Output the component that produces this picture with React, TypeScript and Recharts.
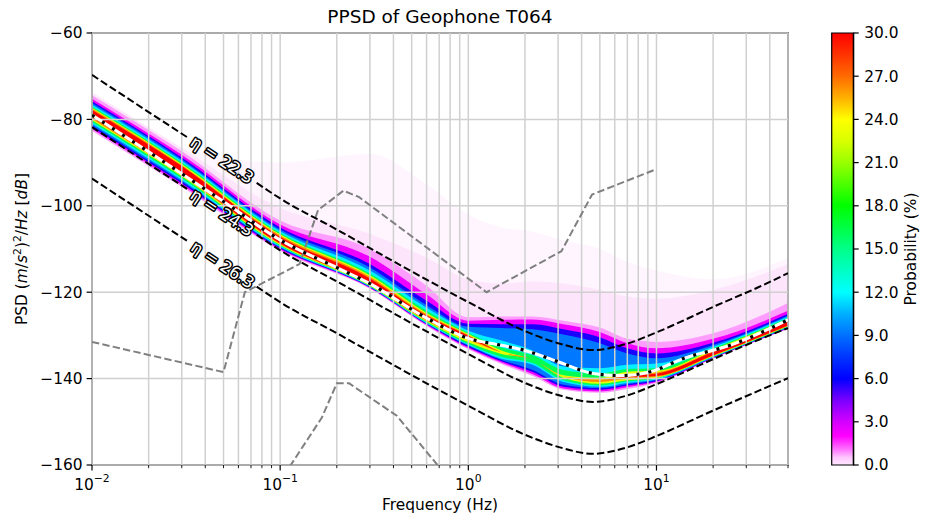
import React from 'react';
import {
  ComposedChart, Area, Line, Scatter, XAxis, YAxis, CartesianGrid, ReferenceArea,
  BarChart, Bar,
} from 'recharts';

const FONT = '"DejaVu Sans", Verdana, sans-serif';

// ---------- axes ----------
const X_TICKS = [0.01, 0.02, 0.03, 0.04, 0.05, 0.06, 0.07, 0.08, 0.09, 0.1, 0.2, 0.3, 0.4, 0.5, 0.6, 0.7, 0.8, 0.9, 1, 2, 3, 4, 5, 6, 7, 8, 9, 10, 20, 30, 40, 50];
const X_MAJOR = [0.01, 0.1, 1, 10];
const X_EXP = ['\u22122', '\u22121', '0', '1'];
const Y_TICKS = [-160, -140, -120, -100, -80, -60];
const CB_TICKS = [0, 3, 6, 9, 12, 15, 18, 21, 24, 27, 30];

// ---------- probability density (range bands, [low, high] in dB) ----------
const FREQ = [0.01, 0.03, 0.1, 0.3, 0.6, 1, 1.5, 2.2, 3.2, 5, 7, 10, 20, 50];
const FAINT_SPARSE = [[-82.6, -73.8], [-95.6, -86.5], [-110.4, -90], [-119.2, -88], [-127.8, -95], [-133.2, -102], [-136.6, -105], [-139.4, -106], [-142.6, -108], [-143.3, -110], [-142.4, -113], [-141, -115], [-135.4, -117], [-128.5, -112]];
const FAINT = [[-82.6, -73.8], [-95.6, -86.6], [-110.4, -100.5], [-119.2, -106.5], [-127.8, -112], [-133.2, -117], [-136.6, -118], [-139.4, -117.5], [-142.6, -118], [-143.3, -119.5], [-142.4, -121], [-141, -121.5], [-135.4, -119.5], [-128.5, -113.5]];
const PINK = [[-82.6, -74.4], [-95.6, -87.4], [-110.4, -103.4], [-119.2, -110.0], [-127.8, -118.5], [-133.2, -125.8], [-136.6, -125.6], [-139.4, -125.6], [-142.6, -126.6], [-143.3, -128.2], [-142.4, -130.8], [-141.0, -131.5], [-135.4, -129.5], [-128.5, -122.5]];
const MAGENTA = [[-82.2, -75.2], [-95.2, -88.2], [-110.1, -104.3], [-119.0, -111.8], [-127.6, -120.5], [-133.0, -126.6], [-136.3, -126.4], [-139.0, -126.3], [-142.3, -127.4], [-143.0, -129.2], [-142.0, -131.8], [-140.8, -133.0], [-135.3, -130.8], [-128.4, -124.3]];
const BLUE = [[-81.8, -75.8], [-94.8, -88.8], [-109.9, -105.0], [-118.9, -113.5], [-127.4, -122.0], [-132.7, -127.3], [-136.0, -127.4], [-138.5, -127.4], [-141.9, -128.6], [-142.6, -130.4], [-141.6, -133.0], [-140.6, -134.2], [-135.2, -131.7], [-128.3, -125.0]];
const AZURE = [[-81.4, -76.2], [-94.4, -89.2], [-109.7, -105.5], [-118.8, -114.3], [-127.3, -123.0], [-132.4, -128.0], [-135.7, -128.3], [-138.0, -128.6], [-141.4, -129.8], [-142.2, -131.8], [-141.3, -134.2], [-140.4, -135.3], [-135.1, -132.2], [-128.2, -125.4]];
const CYAN = [[-81.0, -76.6], [-94.0, -89.6], [-109.5, -105.9], [-118.7, -115.0], [-127.2, -123.6], [-132.2, -128.9], [-135.4, -131.2], [-136.8, -133.5], [-140.8, -137.2], [-141.9, -137.6], [-141.0, -136.8], [-140.2, -136.5], [-135.0, -132.6], [-128.1, -125.7]];
const GREEN = [[-80.6, -77.0], [-93.6, -90.0], [-109.3, -106.3], [-118.6, -115.7], [-127.0, -124.3], [-132.0, -129.4], [-135.0, -132.8], [-136.4, -134.6], [-140.4, -138.0], [-141.6, -138.8], [-140.7, -137.8], [-140.0, -137.6], [-134.9, -133.0], [-128.0, -126.0]];
const YELLOW = [[-80.2, -77.3], [-93.2, -90.3], [-109.1, -106.6], [-118.5, -116.1], [-126.8, -124.8], [-131.6, -129.7], [-134.3, -133.5], [-135.6, -135.6], [-139.8, -139.2], [-141.2, -139.8], [-140.4, -138.4], [-139.8, -138.2], [-134.8, -133.3], [-127.9, -126.3]];
const ORANGE = [[-79.9, -77.5], [-92.9, -90.6], [-108.9, -106.9], [-118.3, -116.4], [-126.6, -125.1], [-131.0, -129.9], [-133.9, -133.9], [-135.6, -135.6], [-139.5, -139.5], [-140.8, -140.2], [-140.0, -139.0], [-139.6, -138.6], [-134.7, -133.6], [-127.8, -126.5]];
const RED = [[-79.5, -77.8], [-92.5, -90.8], [-108.7, -107.2], [-118.1, -116.8], [-126.4, -125.4], [-130.6, -130.1], [-133.9, -133.9], [-135.6, -135.6], [-139.5, -139.5], [-140.5, -140.5], [-139.7, -139.4], [-139.4, -138.9], [-134.6, -133.8], [-127.7, -126.7]];

const BANDS = [
  { name: 'sparse', values: FAINT_SPARSE, color: '#fef5fe' },
  { name: 'faint', values: FAINT, color: '#fde5fb' },
  { name: 'pink', values: PINK, color: '#ff9cff' },
  { name: 'magenta', values: MAGENTA, color: '#f000ff' },
  { name: 'blue', values: BLUE, color: '#1a00ff' },
  { name: 'azure', values: AZURE, color: '#0078ff' },
  { name: 'cyan', values: CYAN, color: '#00f0ff' },
  { name: 'green', values: GREEN, color: '#00ff55' },
  { name: 'yellow', values: YELLOW, color: '#e8ff00' },
  { name: 'orange', values: ORANGE, color: '#ff8c00' },
  { name: 'red', values: RED, color: '#ff0000' },
];

// ---------- lines ----------
const ETA_F = [0.01, 0.02, 0.032, 0.05, 0.075, 0.1, 0.2, 0.5, 1, 2, 3, 4.6, 7, 10, 20, 35, 50];
const ETA_22 = [-69.7, -78.3, -84.1, null, -94.7, -98.3, -105.5, -115.2, -122.3, -129.0, -131.8, -133.4, -131.9, -129.3, -123.4, -118.8, -115.6];
const ETA_24 = [-81.8, -90.3, -96.1, null, -106.7, -110.3, -117.5, -127.2, -134.3, -141.0, -143.8, -145.4, -143.9, -141.3, -135.5, -131.0, -128.3];
const ETA_26 = [-93.7, -102.3, -108.1, null, -118.7, -122.3, -129.5, -139.2, -146.3, -153.0, -155.8, -157.4, -155.9, -153.3, -147.4, -142.8, -139.9];

const MODE_F = [0.01, 0.02, 0.05, 0.1, 0.2, 0.3, 0.6, 1, 1.5, 2, 3, 4.6, 6.4, 9.3, 14, 25, 50];
const MODE_V = [-79.0, -87.5, -99.0, -107.9, -114.3, -118.0, -126.0, -130.7, -132.3, -133.5, -136.1, -138.8, -139.3, -138.4, -135.3, -132.2, -126.4];

const NHNM_F = [0.01, 0.05, 0.0649, 0.1266, 0.159, 0.217, 0.263, 1.25, 3.125, 4.545, 10];
const NHNM_V = [-131.5, -138.5, -120.0, -113.5, -101.0, -96.5, -98.0, -120.0, -110.5, -97.4, -91.5];
const NLNM_F = [0.0641, 0.0833, 0.1, 0.1667, 0.2, 0.2326, 0.4167, 0.806, 1.25];
const NLNM_V = [-162.1, -166.2, -163.75, -149.0, -141.1, -141.1, -148.6, -163.7, -169.2];

const ETA_LABELS = [
  { f: 0.0491, v: -89.4, text: '\u03B7 = 22.3' },
  { f: 0.0491, v: -101.6, text: '\u03B7 = 24.3' },
  { f: 0.0495, v: -113.7, text: '\u03B7 = 26.3' },
];

const CB_DATA = [{ name: 'p', v: 30 }];
const CB_STOPS = [
  ['0%', '#ff0000'], ['5%', '#ff3300'], ['10%', '#ff6a00'], ['15%', '#ffb000'], ['20%', '#ffff00'],
  ['25%', '#d8ff00'], ['30%', '#99ff00'], ['35%', '#4cff00'], ['40%', '#00ff00'], ['45%', '#00ff44'],
  ['50%', '#00ff88'], ['55%', '#00ffc4'], ['60%', '#00ffff'], ['65%', '#00b0ff'], ['70%', '#0070ff'],
  ['75%', '#0035ff'], ['80%', '#0000ff'], ['85%', '#7a00ff'], ['90%', '#d400ff'], ['93.3%', '#ff00ff'],
  ['96.7%', '#ff80ff'], ['98.3%', '#ffc8ff'], ['100%', '#ffe8ff'],
];

const toRows = (xs: number[], ys: any[]) => xs.map((f, i) => ({ f, v: ys[i] }));
const bandRows = (vals: number[][]) => FREQ.map((f, i) => ({ f, r: vals[i] }));

const XTick = (props: any) => {
  const { x, y, payload } = props;
  const idx = X_MAJOR.findIndex((m) => Math.abs(m - payload.value) < 1e-9);
  const major = idx >= 0;
  return (
    <g>
      <line x1={x} x2={x} y1={y} y2={y + (major ? 5.6 : 3.2)} stroke="#000" strokeWidth={major ? 1.2 : 0.9} />
      {major && (
        <text x={x} y={y + 25} textAnchor="middle" fontSize={15.4} fontFamily={FONT} fill="#000">
          10<tspan dy={-8} fontSize={10.8}>{X_EXP[idx]}</tspan>
        </text>
      )}
    </g>
  );
};

const EtaLabel = (props: any) => {
  const { cx, cy, payload } = props;
  if (cx == null || cy == null) return null;
  return (
    <text
      x={cx} y={cy} transform={`rotate(33.5 ${cx} ${cy})`} textAnchor="middle" dominantBaseline="central"
      fontSize={16.5} fontFamily={FONT} fill="#fff" stroke="#000" strokeWidth={3}
      style={{ paintOrder: 'stroke' }} strokeLinejoin="round"
    >
      {payload.text}
    </text>
  );
};

const fmtY = (v: number) => (v < 0 ? `\u2212${Math.abs(v)}` : `${v}`);
const gridProps: any = { zIndex: 150 };

export default function App() {
  return (
    <div style={{ position: 'absolute', left: 0, top: 0, width: 926, height: 516, background: '#fff', fontFamily: FONT }}>
      <div style={{ position: 'absolute', left: 0, top: 0 }}>
        <ComposedChart width={926} height={516} margin={{ top: 33, right: 138, bottom: 0, left: 0 }}>
          <XAxis
            dataKey="f" type="number" scale="log" domain={[0.01, 50]} allowDataOverflow
            ticks={X_TICKS} interval={0} tick={(p: any) => <XTick {...p} />} tickLine={false} axisLine={false}
            tickSize={0} tickMargin={0} height={51}
          />
          <YAxis
            type="number" domain={[-160, -60]} allowDataOverflow ticks={Y_TICKS} interval={0} width={92}
            tickSize={5.4} tickMargin={4} tickFormatter={fmtY}
            tick={{ fontSize: 15.4, fill: '#000', fontFamily: FONT }}
            tickLine={{ stroke: '#000', strokeWidth: 1.2 }} axisLine={false}
          />
          {BANDS.map((b) => (
            <Area
              key={b.name} data={bandRows(b.values)} dataKey="r" type="monotone" stroke="none"
              fill={b.color} fillOpacity={1} isAnimationActive={false} dot={false} activeDot={false}
            />
          ))}
          <CartesianGrid stroke="#d0d0d0" strokeWidth={1.5} {...gridProps} />
          <Line data={toRows(NHNM_F, NHNM_V)} dataKey="v" type="linear" stroke="#808080" strokeWidth={2} strokeDasharray="7.4 3.2" dot={false} activeDot={false} isAnimationActive={false} />
          <Line data={toRows(NLNM_F, NLNM_V)} dataKey="v" type="linear" stroke="#808080" strokeWidth={2} strokeDasharray="7.4 3.2" dot={false} activeDot={false} isAnimationActive={false} />
          <Line data={toRows(ETA_F, ETA_22)} dataKey="v" type="monotone" stroke="#000" strokeWidth={2} strokeDasharray="7.4 3.2" dot={false} activeDot={false} isAnimationActive={false} />
          <Line data={toRows(ETA_F, ETA_24)} dataKey="v" type="monotone" stroke="#000" strokeWidth={2} strokeDasharray="7.4 3.2" dot={false} activeDot={false} isAnimationActive={false} />
          <Line data={toRows(ETA_F, ETA_26)} dataKey="v" type="monotone" stroke="#000" strokeWidth={2} strokeDasharray="7.4 3.2" dot={false} activeDot={false} isAnimationActive={false} />
          <Line data={toRows(MODE_F, MODE_V)} dataKey="v" type="monotone" stroke="#fff" strokeWidth={3} dot={false} activeDot={false} isAnimationActive={false} />
          <Line data={toRows(MODE_F, MODE_V)} dataKey="v" type="monotone" stroke="#000" strokeWidth={3.2} strokeDasharray="3 9" dot={false} activeDot={false} isAnimationActive={false} />
          <Scatter data={ETA_LABELS} dataKey="v" shape={(p: any) => <EtaLabel {...p} />} isAnimationActive={false} />
          <ReferenceArea x1={0.01} x2={50} y1={-160} y2={-60} fill="none" stroke="#000" strokeWidth={1.3} ifOverflow="visible" />
        </ComposedChart>
      </div>
      <div style={{ position: 'absolute', left: 800, top: 0 }}>
        <BarChart width={126} height={516} data={CB_DATA} margin={{ top: 33, right: 0, bottom: 51, left: 31.7 }} barCategoryGap={0}>
          <defs>
            <linearGradient id="cbGrad" x1="0" y1="0" x2="0" y2="1">
              {CB_STOPS.map(([o, c]) => <stop key={o} offset={o} stopColor={c} />)}
            </linearGradient>
          </defs>
          <XAxis dataKey="name" hide />
          <YAxis
            orientation="right" type="number" domain={[0, 30]} ticks={CB_TICKS} interval={0} width={72.7}
            tickSize={5.4} tickMargin={5.5} tickFormatter={(v: number) => v.toFixed(1)}
            tick={{ fontSize: 15.4, fill: '#000', fontFamily: FONT }}
            tickLine={{ stroke: '#000', strokeWidth: 1.2 }} axisLine={{ stroke: '#000', strokeWidth: 1.2 }}
          />
          <Bar dataKey="v" fill="url(#cbGrad)" stroke="#000" strokeWidth={1.2} isAnimationActive={false} />
        </BarChart>
      </div>
      <svg width={926} height={516} style={{ position: 'absolute', left: 0, top: 0, pointerEvents: 'none' }}>
        <text x={440} y={23} textAnchor="middle" fontSize={18.5} fontFamily={FONT} fill="#000">PPSD of Geophone T064</text>
        <text x={440} y={510} textAnchor="middle" fontSize={15.4} fontFamily={FONT} fill="#000">Frequency (Hz)</text>
        <text transform="rotate(-90)" x={-249} y={27} textAnchor="middle" fontSize={15.4} fontFamily={FONT} fill="#000">
          PSD (<tspan fontStyle="italic">m</tspan>/<tspan fontStyle="italic">s</tspan><tspan dy={-6} fontSize={10.8}>2</tspan><tspan dy={6}>)</tspan><tspan dy={-6} fontSize={10.8}>2</tspan><tspan dy={6}>/</tspan><tspan fontStyle="italic">Hz</tspan> [<tspan fontStyle="italic">dB</tspan>]
        </text>
        <text transform="rotate(-90)" x={-249} y={916} textAnchor="middle" fontSize={15.4} fontFamily={FONT} fill="#000">Probability (%)</text>
      </svg>
    </div>
  );
}
